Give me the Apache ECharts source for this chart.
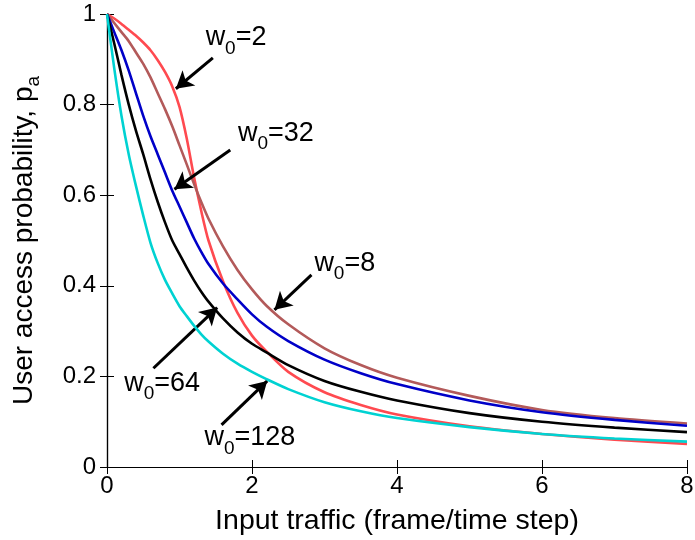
<!DOCTYPE html>
<html>
<head>
<meta charset="utf-8">
<script src="https://cdn.jsdelivr.net/npm/echarts@6/dist/echarts.min.js"></script>
<style>html,body{margin:0;padding:0;background:#fff}</style>
</head>
<body>
<div id="main" style="width:695px;height:540px"></div>
<script>
// input traffic (frame/time step)
var traffic = [0, 0.1, 0.2, 0.3, 0.4, 0.5, 0.6, 0.7, 0.8, 0.9, 1.0, 1.1, 1.2, 1.3, 1.4, 1.6, 1.8, 2.0, 2.2, 2.5, 3, 3.5, 4, 5, 6, 7, 8];
// user access probability p_a for each initial window w0
var pa_w2   = [1, 0.99, 0.978, 0.965, 0.952, 0.937, 0.92, 0.898, 0.872, 0.84, 0.795, 0.725, 0.64, 0.565, 0.50, 0.41, 0.34, 0.29, 0.255, 0.21, 0.165, 0.137, 0.116, 0.09, 0.073, 0.06, 0.051];
var pa_w8   = [1, 0.98, 0.96, 0.94, 0.915, 0.89, 0.86, 0.825, 0.79, 0.752, 0.71, 0.668, 0.625, 0.585, 0.548, 0.487, 0.435, 0.392, 0.356, 0.315, 0.262, 0.225, 0.197, 0.157, 0.126, 0.108, 0.096];
var pa_w32  = [1, 0.96, 0.92, 0.875, 0.825, 0.775, 0.73, 0.69, 0.65, 0.61, 0.575, 0.54, 0.505, 0.475, 0.448, 0.405, 0.37, 0.337, 0.31, 0.278, 0.237, 0.207, 0.183, 0.147, 0.121, 0.104, 0.091];
var pa_w64  = [1, 0.935, 0.865, 0.80, 0.742, 0.69, 0.635, 0.585, 0.54, 0.50, 0.47, 0.44, 0.412, 0.387, 0.365, 0.328, 0.297, 0.272, 0.253, 0.225, 0.19, 0.166, 0.147, 0.119, 0.10, 0.087, 0.077];
var pa_w128 = [1, 0.88, 0.775, 0.69, 0.62, 0.555, 0.495, 0.45, 0.413, 0.383, 0.355, 0.333, 0.312, 0.293, 0.277, 0.25, 0.228, 0.21, 0.194, 0.172, 0.143, 0.123, 0.108, 0.088, 0.073, 0.063, 0.056];
var windows = ['2', '8', '32', '64', '128'];
var xTicks = [0, 2, 4, 6, 8];
var yTicks = [0, 0.2, 0.4, 0.6, 0.8, 1];

var font = 'Liberation Sans, Arial, Helvetica, sans-serif';
var colors = ['#ff4a50', '#b35a5a', '#0000c8', '#000000', '#00d2d2'];
var allPa = [pa_w2, pa_w8, pa_w32, pa_w64, pa_w128];

// arrows: [tailX, tailY, tipX, tipY] and label centre [x, y], in data units
var arrows = [
  [1.46, 0.903, 0.95, 0.835],
  [2.82, 0.424, 2.31, 0.347],
  [1.70, 0.700, 0.93, 0.613],
  [0.64, 0.218, 1.52, 0.352],
  [1.58, 0.093, 2.21, 0.190]
];
var labelPos = [[1.78, 0.947], [3.28, 0.450], [2.33, 0.737], [0.76, 0.185], [1.97, 0.064]];

var myChart = echarts.init(document.getElementById('main'));

var series = allPa.map(function (arr, k) {
  return {
    name: 'w0=' + windows[k],
    type: 'line',
    data: traffic.map(function (x, i) { return [x, arr[i]]; }),
    smooth: 0.25,
    showSymbol: false,
    symbol: 'none',
    lineStyle: { color: colors[k], width: 2.6 },
    z: 2 + k
  };
});

series.push({
  type: 'line',
  data: [],
  z: 20,
  markLine: {
    silent: true,
    animation: false,
    symbol: ['none', 'arrow'],
    symbolSize: [15, 17],
    label: { show: false },
    lineStyle: { color: '#000', width: 3, type: 'solid' },
    data: arrows.map(function (a) {
      return [{ coord: [a[0], a[1]] }, { coord: [a[2], a[3]] }];
    })
  }
});

var option = {
  animation: false,
  grid: { left: 107, right: 8, top: 14, bottom: 73, outerBoundsMode: 'none' },
  xAxis: [
    {
      type: 'value', min: 0, max: 8, interval: 2,
      name: 'Input traffic (frame/time step)',
      nameLocation: 'middle', nameGap: 40,
      nameTextStyle: { fontSize: 28.5, color: '#000', fontFamily: font },
      axisLine: { lineStyle: { color: '#000', width: 1.2 } },
      axisTick: { inside: true, length: 7, lineStyle: { color: '#000' } },
      axisLabel: { margin: 7, fontSize: 24, color: '#000', fontFamily: font },
      splitLine: { show: false }
    },
    {
      type: 'value', min: 0, max: 8, interval: 2, position: 'top',
      axisLine: { lineStyle: { color: '#000', width: 1.2 } },
      axisTick: { inside: true, length: 7, lineStyle: { color: '#000' } },
      axisLabel: { show: false },
      splitLine: { show: false }
    }
  ],
  yAxis: [
    {
      type: 'value', min: 0, max: 1, interval: 0.2,
      name: 'User access probability, p{s|a}',
      nameLocation: 'middle', nameGap: 64,
      nameTextStyle: {
        fontSize: 28, color: '#000', fontFamily: font,
        rich: { s: { fontSize: 19, color: '#000', fontFamily: font, padding: [18, 0, 0, 0] } }
      },
      axisLine: { lineStyle: { color: '#000', width: 1.2 } },
      axisTick: { inside: true, length: 7, lineStyle: { color: '#000' } },
      axisLabel: { margin: 11, fontSize: 24, color: '#000', fontFamily: font },
      splitLine: { show: false }
    },
    {
      type: 'value', min: 0, max: 1, interval: 0.2, position: 'right',
      axisLine: { lineStyle: { color: '#000', width: 1.2 } },
      axisTick: { inside: true, length: 7, lineStyle: { color: '#000' } },
      axisLabel: { show: false },
      splitLine: { show: false }
    }
  ],
  series: series
};

myChart.setOption(option);

// w0 annotations, placed from data coordinates
var graphics = labelPos.map(function (p, k) {
  var px = myChart.convertToPixel({ gridIndex: 0 }, p);
  return {
    type: 'text',
    x: px[0],
    y: px[1],
    z: 30,
    style: {
      text: '{m|w}{s|0}{m|=' + windows[k] + '}',
      align: 'center',
      verticalAlign: 'middle',
      rich: {
        m: { fontSize: 27, fill: '#000', fontFamily: font },
        s: { fontSize: 19, fill: '#000', fontFamily: font, padding: [22, 0, 0, 0] }
      }
    }
  };
});
myChart.setOption({ graphic: graphics });

window.addEventListener('resize', function () {
  myChart.resize();
});
</script>
</body>
</html>
